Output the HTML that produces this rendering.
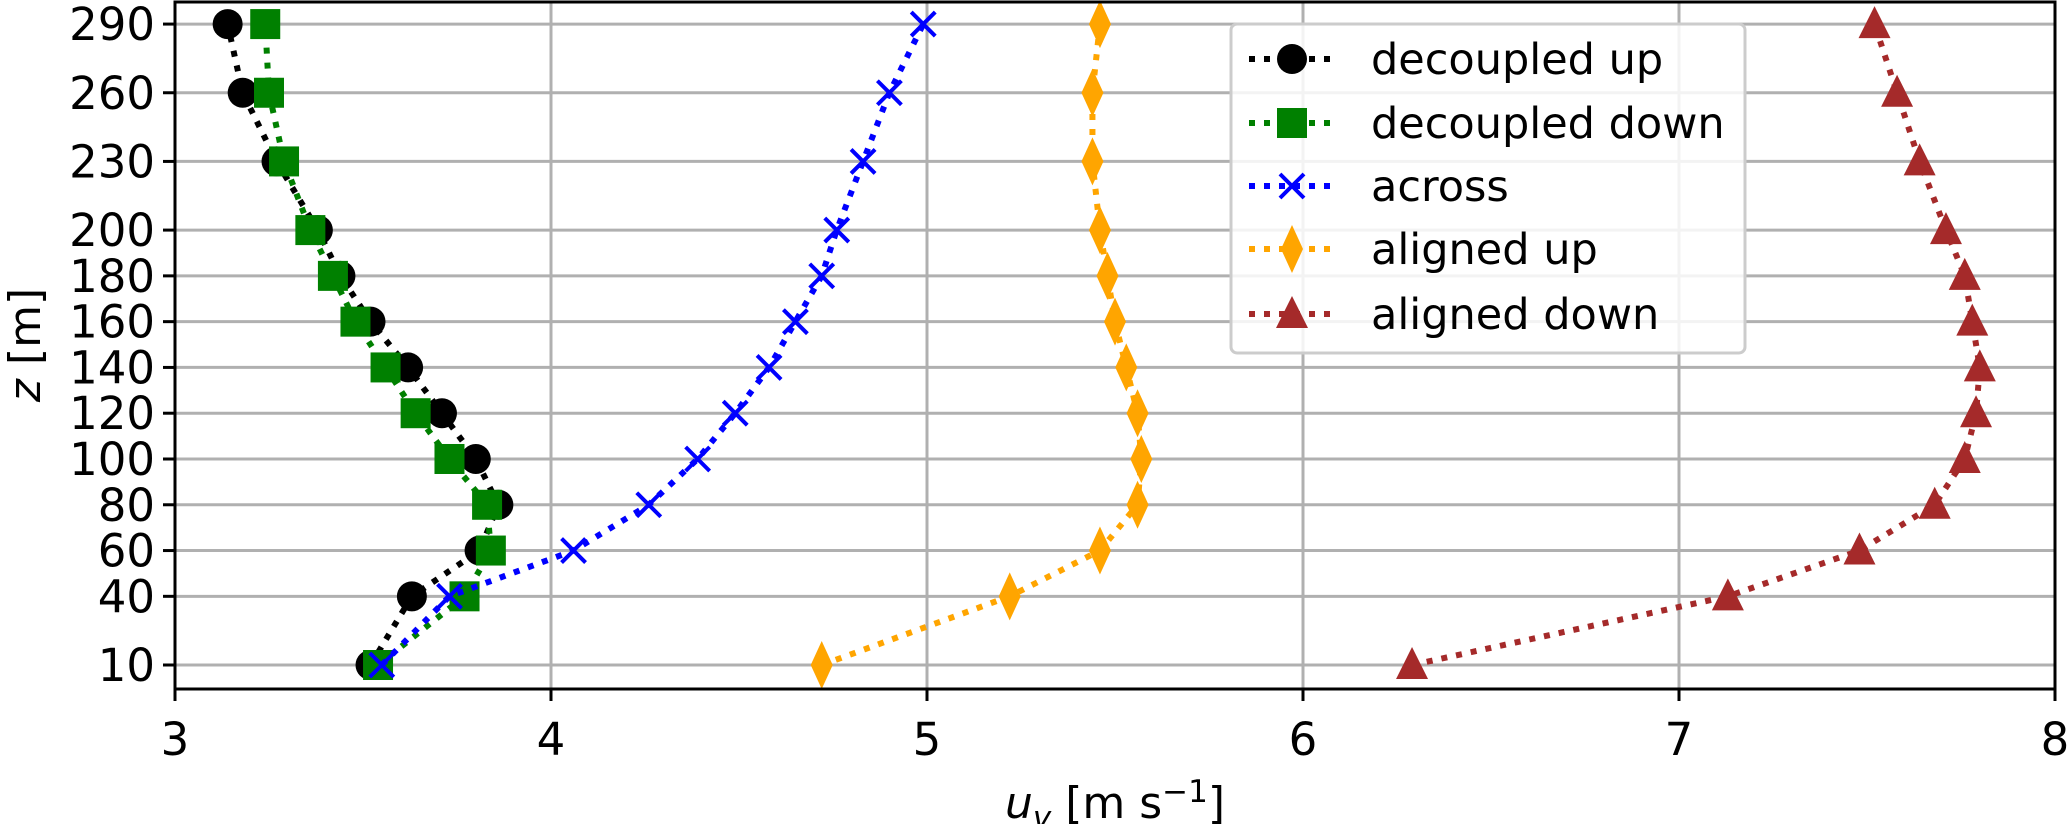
<!DOCTYPE html>
<html><head><meta charset="utf-8"><style>
html,body{margin:0;padding:0;background:#fff;}
svg{display:block;font-family:"DejaVu Sans","Liberation Sans",sans-serif;}
</style></head><body>
<svg id="chart" width="2067" height="824" viewBox="0 0 2067 824" xmlns="http://www.w3.org/2000/svg">
<g id="grid"></g>
<g id="series"></g>
<g id="axes"></g>
<text x="40" y="345" font-size="44" text-anchor="middle" transform="rotate(-90 40 345)"><tspan font-style="italic">z</tspan> [m]</text>
<text x="1115" y="818" font-size="44" text-anchor="middle"><tspan font-style="italic">u</tspan><tspan font-style="italic" font-size="31" dy="10">v</tspan><tspan dy="-10"> [m s</tspan><tspan font-size="31" dy="-16">−1</tspan><tspan dy="16">]</tspan></text>
<g id="legend"></g>
</svg>
<script>
const heights = [10,40,60,80,100,120,140,160,180,200,230,260,290];
const xTicks = [3,4,5,6,7,8];
const decoupledUp = [3.52,3.63,3.81,3.86,3.80,3.71,3.62,3.52,3.44,3.38,3.27,3.18,3.14];
const decoupledDown = [3.54,3.77,3.84,3.83,3.73,3.64,3.56,3.48,3.42,3.36,3.29,3.25,3.24];
const across = [3.55,3.73,4.06,4.26,4.39,4.49,4.58,4.65,4.72,4.76,4.83,4.90,4.99];
const alignedUp = [4.72,5.22,5.46,5.56,5.57,5.56,5.53,5.50,5.48,5.46,5.44,5.44,5.46];
const alignedDown = [6.29,7.13,7.48,7.68,7.76,7.79,7.80,7.78,7.76,7.71,7.64,7.58,7.52];
const seriesNames = ["decoupled up","decoupled down","across","aligned up","aligned down"];

const L=175,R=2055,T=2,B=689;
const xs = v => L + (v-3)*376;
const ys = z => 665 - (z-10)*2.289;
const NS="http://www.w3.org/2000/svg";
function mk(tag, attrs, parent){const e=document.createElementNS(NS,tag);for(const k in attrs)e.setAttribute(k,attrs[k]);parent.appendChild(e);return e;}
const grid=document.getElementById('grid'), axes=document.getElementById('axes'), ser=document.getElementById('series'), leg=document.getElementById('legend');

xTicks.forEach(t=>{
  const gl=mk('line',{x1:xs(t),x2:xs(t),y1:T,y2:B,stroke:'#b0b0b0','stroke-width':3},grid);
  
  
  const tk=mk('line',{x1:xs(t),x2:xs(t),y1:B,y2:B+12,stroke:'#000','stroke-width':3},axes);
  
  
  const tl=mk('text',{x:xs(t),y:B+66,'font-size':45,'text-anchor':'middle'},axes);
  tl.textContent=t;
  
  
});
heights.forEach(z=>{
  const gl=mk('line',{x1:L,x2:R,y1:ys(z),y2:ys(z),stroke:'#b0b0b0','stroke-width':3},grid);
  
  
  const tk=mk('line',{x1:L-12,x2:L,y1:ys(z),y2:ys(z),stroke:'#000','stroke-width':3},axes);
  
  
  const tl=mk('text',{x:L-20,y:ys(z)+16,'font-size':45,'text-anchor':'end'},axes);
  tl.textContent=z;
  
  
});
const frame=mk('rect',{x:L,y:T,width:R-L,height:B-T,fill:'none',stroke:'#000','stroke-width':3},axes);



function marker(kind,cx,cy,color,parent){
  let e;
  if(kind==='circle') e=mk('circle',{cx,cy,r:15,fill:color},parent);
  else if(kind==='square') e=mk('rect',{x:cx-15,y:cy-15,width:30,height:30,fill:color},parent);
  else if(kind==='x') e=mk('path',{d:`M${cx-12} ${cy-12}L${cx+12} ${cy+12}M${cx-12} ${cy+12}L${cx+12} ${cy-12}`,stroke:color,'stroke-width':4,fill:'none'},parent);
  else if(kind==='diamond') e=mk('path',{d:`M${cx} ${cy-24}L${cx+11} ${cy}L${cx} ${cy+24}L${cx-11} ${cy}Z`,fill:color},parent);
  else e=mk('path',{d:`M${cx} ${cy-18}L${cx+16} ${cy+14}L${cx-16} ${cy+14}Z`,fill:color},parent);
  return e;
}
const defs=[
  {vals:decoupledUp,color:'#000000',m:'circle',name:'decoupled-up'},
  {vals:decoupledDown,color:'#008000',m:'square',name:'decoupled-down'},
  {vals:across,color:'#0000ff',m:'x',name:'across'},
  {vals:alignedUp,color:'#ffa500',m:'diamond',name:'aligned-up'},
  {vals:alignedDown,color:'#a52a2a',m:'triangle',name:'aligned-down'}
];
defs.forEach(d=>{
  const g=mk('g',{},ser);
  
  
  const pts=d.vals.map((v,i)=>xs(v)+','+ys(heights[i])).join(' ');
  const pl=mk('polyline',{points:pts,fill:'none',stroke:d.color,'stroke-width':6,'stroke-dasharray':'6 9'},g);
  
  
  d.vals.forEach((v,i)=>{
    const mEl=marker(d.m,xs(v),ys(heights[i]),d.color,g);
    
    
  });
});

const box=mk('rect',{x:1231,y:24,width:514,height:329,rx:6,fill:'#fff','fill-opacity':0.85,stroke:'#cccccc','stroke-width':3},leg);


const ly=[59,123,186,249,314];
defs.forEach((d,i)=>{
  const g=mk('g',{},leg);
  
  
  mk('line',{x1:1249,x2:1334,y1:ly[i],y2:ly[i],stroke:d.color,'stroke-width':6,'stroke-dasharray':'6 9'},g);
  marker(d.m,1292,ly[i],d.color,g);
  const t=mk('text',{x:1371,y:ly[i]+15,'font-size':43},g);
  t.textContent=seriesNames[i];
});
</script>
</body></html>
